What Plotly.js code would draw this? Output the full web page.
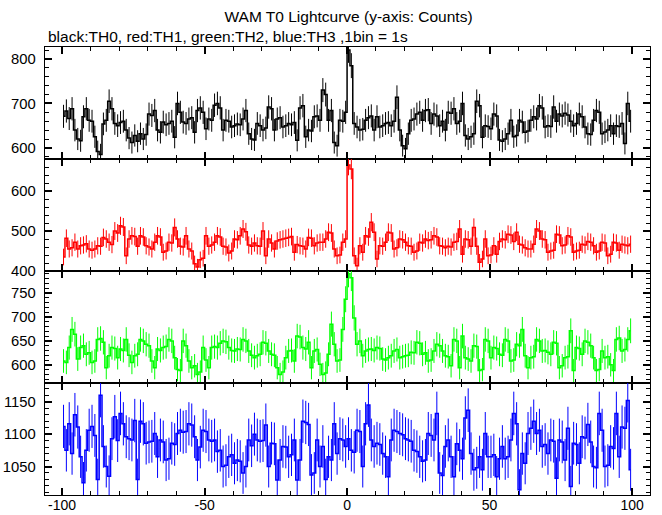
<!DOCTYPE html>
<html>
<head>
<meta charset="utf-8">
<script src="https://cdn.plot.ly/plotly-3.0.1.min.js"></script>
<style>html,body{margin:0;padding:0;background:#fff;}#chart{width:662px;height:515px;}</style>
</head>
<body>
<div id="chart"></div>
<script>
// time bins: 1 s each, from -100 s to +100 s
const binStart = -100;
const binWidth = 1;
const nBins = 200;

const th0 = [671,683,666,688,640,620,616,670,688,662,
660,625,592,585,654,662,705,688,655,650,
657,660,640,622,612,628,615,632,620,630,
676,673,684,640,635,658,652,655,660,624,
700,680,658,655,665,668,635,684,690,680,
643,665,662,696,700,690,640,662,660,647,
650,654,652,665,684,632,620,618,655,650,
640,645,692,688,640,665,668,647,650,655,
652,657,617,690,695,625,640,638,670,672,
662,730,720,662,684,612,605,662,660,680,
820,785,655,647,640,642,662,668,672,640,
670,647,650,655,657,650,660,714,640,605,
598,632,662,665,676,680,662,684,686,655,
676,672,650,660,640,680,678,688,655,660,
700,628,620,625,632,705,695,624,650,648,
643,676,672,618,615,620,632,662,625,628,
662,658,635,638,662,670,665,695,690,647,
650,648,692,660,676,672,678,674,660,650,
655,676,670,647,632,630,662,684,680,632,
636,640,650,632,650,648,655,610,700,660];

const th1 = [435,482,455,458,472,455,463,465,468,455,
452,455,463,462,484,480,472,466,500,495,
513,510,438,480,488,486,462,488,485,463,
460,455,472,488,485,447,450,472,470,509,
480,462,460,488,455,450,418,410,428,432,
488,462,465,472,488,485,462,460,445,450,
480,478,488,505,498,465,462,470,463,462,
500,438,480,470,455,475,478,480,482,484,
486,447,466,463,462,455,484,482,463,470,
472,472,480,497,495,455,438,440,472,480,
665,655,438,413,463,447,488,485,522,497,
430,463,462,472,497,495,455,458,480,478,
472,463,462,447,450,472,470,480,476,478,
488,485,463,462,458,462,460,472,474,505,
442,480,478,462,509,462,422,430,480,438,
440,463,442,474,480,478,492,490,474,497,
467,465,458,455,455,467,505,500,480,478,
447,450,452,492,490,463,465,488,485,447,
450,452,467,465,474,472,463,447,450,472,
470,438,442,472,470,452,467,465,463,467];

const th2 = [608,605,636,674,664,612,636,640,622,625,
605,608,653,655,647,594,619,636,634,615,
633,630,653,620,605,619,622,653,650,643,
640,608,594,633,630,636,638,653,650,615,
590,588,650,640,608,594,598,580,585,636,
610,594,636,638,636,645,650,648,636,630,
629,633,632,653,650,629,620,615,619,622,
647,645,629,622,620,594,580,585,615,629,
630,608,660,658,636,633,647,594,629,632,
601,580,583,622,685,643,608,610,674,737,
790,782,698,643,650,619,629,632,633,630,
636,634,612,610,615,619,629,632,615,617,
619,620,626,625,647,645,622,625,608,610,
629,643,640,629,619,617,598,653,650,594,
660,615,612,608,640,638,588,590,653,650,
615,636,634,622,620,653,650,608,610,643,
640,674,619,594,615,617,653,650,629,630,
626,622,647,645,594,598,615,617,671,588,
636,634,622,650,647,640,615,588,590,629,
615,617,600,588,653,656,629,632,653,671];

const th3 = [1112,1075,1116,1070,1130,1111,1065,1025,1075,1106,
1112,1098,1030,1160,1081,1050,1035,1093,1127,1090,
1132,1116,1096,1093,1091,1121,1030,1120,1116,1086,
1088,1089,1101,1065,1091,1088,1060,1062,1086,1084,
1101,1106,1103,1104,1116,1114,1096,1060,1080,1106,
1104,1091,1089,1091,1073,1075,1050,1052,1065,1068,
1055,1060,1058,1040,1050,1091,1082,1100,1091,1089,
1090,1114,1050,1086,1085,1029,1060,1081,1080,1065,
1068,1091,1029,1060,1120,1118,1115,1037,1040,1091,
1050,1081,1030,1065,1060,1116,1070,1093,1091,1081,
1093,1075,1072,1106,1104,1050,1116,1145,1091,1081,
1086,1084,1070,1065,1034,1091,1106,1104,1101,1099,
1093,1091,1089,1075,1073,1065,1058,1060,1101,1098,
1091,1132,1040,1036,1081,1091,1065,1034,1085,1075,
1062,1125,1137,1070,1045,1048,1065,1045,1101,1065,
1065,1068,1034,1062,1081,1062,1065,1091,1132,1116,
1014,1070,1055,1101,1109,1120,1101,1106,1081,1084,
1070,1091,1089,1032,1091,1088,1060,1109,1019,1086,
1084,1055,1096,1094,1115,1088,1050,1048,1132,1106,
1050,1052,1081,1078,1132,1065,1111,1109,1152,1045];

const xTickVals = [-100, -50, 0, 50, 100];
const xTickText = ['-100', '-50', '0', '50', '100'];
const yTicks1 = [600, 700, 800];
const yTicks2 = [400, 500, 600];
const yTicks3 = [600, 650, 700, 750];
const yTicks4 = [1050, 1100, 1150];

const titleText = 'WAM T0 Lightcurve (y-axis: Counts)';
const subtitleText = 'black:TH0, red:TH1, green:TH2, blue:TH3 ,1bin = 1s';

const FONT = 'Liberation Sans, Arial, sans-serif';

const t = [];
for (let i = 0; i < nBins; i++) t.push(binStart + binWidth * (i + 0.5));

function trace(y, color, xa, ya) {
  return {
    x: t, y: y, type: 'scatter', mode: 'lines',
    line: {shape: 'hvh', color: color, width: 1.5},
    error_y: {type: 'sqrt', visible: true, color: color, thickness: 1, width: 0},
    xaxis: xa, yaxis: ya, hoverinfo: 'skip'
  };
}

const data = [
  trace(th0, '#000000', 'x', 'y'),
  trace(th1, '#ff0000', 'x2', 'y2'),
  trace(th2, '#00ff00', 'x3', 'y3'),
  trace(th3, '#0000ff', 'x4', 'y4')
];

const base = {
  showline: true, linecolor: '#000', linewidth: 1.3, mirror: 'allticks',
  ticks: 'inside', ticklen: 7, tickwidth: 2, tickcolor: '#000',
  showgrid: false, zeroline: false,
  tickfont: {family: FONT, size: 14.8, color: '#000'}
};

function xax(anchor, showLabels) {
  return Object.assign({}, base, {
    anchor: anchor, range: [-106, 106.3], tickmode: 'array',
    tickvals: xTickVals, ticktext: xTickText, showticklabels: showLabels,
    tickfont: {family: FONT, size: 14, color: '#000'},
    ticklabelstandoff: -3,
    minor: {dtick: 10, tick0: 0, ticks: 'inside', ticklen: 4, tickwidth: 1, tickcolor: '#000', showgrid: false},
    matches: anchor === 'y' ? undefined : 'x'
  });
}
function yax(anchor, domain, range, vals, minorStep) {
  return Object.assign({}, base, {
    anchor: anchor, domain: domain, range: range, tickmode: 'array', tickvals: vals,
    ticklabelstandoff: 5,
    minor: {dtick: minorStep, tick0: 0, ticks: 'inside', ticklen: 4, tickwidth: 1, tickcolor: '#000', showgrid: false}
  });
}

const layout = {
  width: 662, height: 515,
  margin: {l: 45, r: 12, t: 47, b: 20},
  paper_bgcolor: '#fff', plot_bgcolor: '#fff',
  showlegend: false,
  font: {family: FONT, size: 15, color: '#000'},
  title: {text: titleText, x: 0.5265, xanchor: 'center', y: 1 - 17 / 515, yanchor: 'middle',
          font: {family: FONT, size: 15.5, color: '#000'}},
  xaxis: xax('y', false),
  xaxis2: xax('y2', false),
  xaxis3: xax('y3', false),
  xaxis4: xax('y4', true),
  yaxis: yax('x', [0.75, 1], [575, 827], yTicks1, 20),
  yaxis2: yax('x2', [0.5, 0.75], [400, 680], yTicks2, 20),
  yaxis3: yax('x3', [0.25, 0.5], [562, 796], yTicks3, 10),
  yaxis4: yax('x4', [0, 0.25], [1006, 1179], yTicks4, 10),
  annotations: [{
    text: subtitleText, xref: 'paper', yref: 'paper', x: 0, y: (495 - 36) / 448,
    xanchor: 'left', yanchor: 'middle', xshift: 1, showarrow: false,
    font: {family: FONT, size: 15.5, color: '#000'}
  }]
};

Plotly.newPlot('chart', data, layout, {displayModeBar: false, staticPlot: true});
</script>
</body>
</html>
